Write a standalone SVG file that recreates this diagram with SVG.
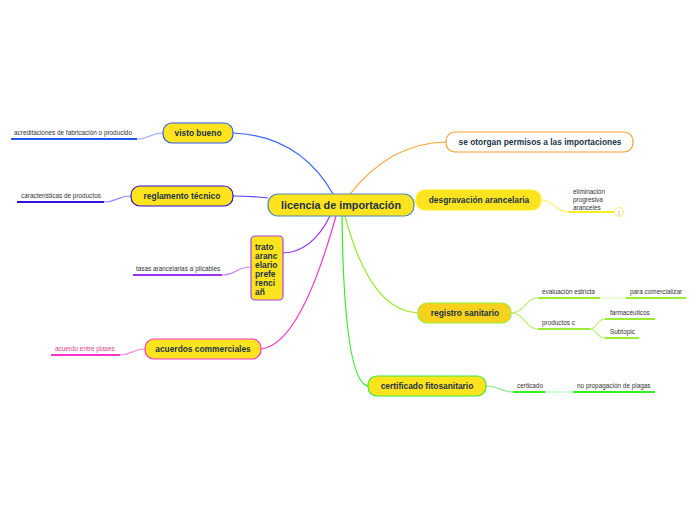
<svg xmlns="http://www.w3.org/2000/svg" width="696" height="520" viewBox="0 0 696 520">
<style>
.node{font-family:"Liberation Sans",Arial,sans-serif;font-weight:bold;font-size:8.4px;fill:#1b3447;text-anchor:middle}
.main{font-size:10.8px}
.sub{font-family:"Liberation Sans",Arial,sans-serif;font-size:6.4px;fill:#333}
.c{fill:none;stroke-width:1.2}
.u{fill:none;stroke-width:2}
</style>
<rect width="696" height="520" fill="#fff"/>
<g id="connectors">
<path class="c" stroke="#3366ff" d="M333,194 Q300,136 233,133"/>
<path class="c" stroke="#5a3cf0" d="M268,198 Q250,196 233,196"/>
<path class="c" stroke="#9933ff" d="M330,216 Q312,252 283,253"/>
<path class="c" stroke="#ff33cc" d="M336,216 Q300,345 261,349"/>
<path class="c" stroke="#ffa030" d="M350,194 Q390,143 446,142"/>
<path class="c" stroke="#ffee22" d="M414,203 L416,201"/>
<path class="c" stroke="#99ee22" d="M345,216 Q370,311 418,313"/>
<path class="c" stroke="#33ee22" d="M342,216 Q344,382 368,386"/>
<path class="c" stroke="#99aaff" d="M163,133 C150,133 150,139 137,139"/>
<path class="u" stroke="#2255ee" d="M11,139 H137"/>
<path class="c" stroke="#9988ff" d="M131,196 C117,196 117,202 104,202"/>
<path class="u" stroke="#3311dd" d="M17,202 H104"/>
<path class="c" stroke="#cc88ff" d="M251,267 C236,267 236,275 222,275"/>
<path class="u" stroke="#9933ee" d="M133,275 H222"/>
<path class="c" stroke="#ff88dd" d="M145,349 C132,349 132,355 120,355"/>
<path class="u" stroke="#ff33cc" d="M51,355 H120"/>
<path class="c" stroke="#ffee66" d="M541,200 C555,200 555,212 568,212"/>
<path class="u" stroke="#ffee22" d="M568,212 H614"/>
<circle cx="619" cy="212" r="4.5" fill="#fff" stroke="#ffee66" stroke-width="1"/>
<text x="619" y="214.5" font-family="Liberation Sans,Arial,sans-serif" font-size="5" fill="#aa9" text-anchor="middle">1</text>
<path class="c" stroke="#bbf070" d="M511,313 C525,313 525,298 538,298"/>
<path class="c" stroke="#bbf070" d="M511,313 C525,313 525,329 538,329"/>
<path class="u" stroke="#99ee33" d="M538,298 H600"/>
<path class="c" stroke="#ddf8bb" d="M600,298 H626"/>
<path class="u" stroke="#99ee33" d="M626,298 H686"/>
<path class="u" stroke="#99ee33" d="M538,329 H590"/>
<path class="c" stroke="#bbf070" d="M590,329 C597,329 597,319 605,319"/>
<path class="c" stroke="#bbf070" d="M590,329 C597,329 597,338 605,338"/>
<path class="u" stroke="#99ee33" d="M605,319 H655"/>
<path class="u" stroke="#99ee33" d="M605,338 H639"/>
<path class="c" stroke="#88ee88" d="M486,386 C500,386 500,392 513,392"/>
<path class="u" stroke="#33ee22" d="M513,392 H545"/>
<path class="c" stroke="#bbf7bb" d="M545,392 H573"/>
<path class="u" stroke="#33ee22" d="M573,392 H655"/>
</g>
<g id="central">
<rect x="268" y="194" width="146" height="22" rx="10" fill="#ffe31e" stroke="#4a8ab8" stroke-width="1.2"/>
<text class="node main" x="341" y="208.8">licencia de importación</text>
</g>
<g id="visto-bueno">
<rect x="163" y="123" width="70" height="20" rx="9" fill="#ffe31e" stroke="#2b5cff" stroke-width="1.2"/>
<text class="node" x="198" y="136">visto bueno</text>
</g>
<g id="reglamento">
<rect x="131" y="186" width="102" height="20" rx="9" fill="#ffe31e" stroke="#3311cc" stroke-width="1.2"/>
<text class="node" x="182" y="199">reglamento técnico</text>
</g>
<g id="trato">
<rect x="251" y="236" width="32" height="64" rx="4" fill="#ffe31e" stroke="#b040e0" stroke-width="1.2"/>
<text class="node" style="text-anchor:start">
<tspan x="255" y="250">trato</tspan><tspan x="255" y="259">aranc</tspan><tspan x="255" y="268">elario</tspan><tspan x="255" y="277">prefe</tspan><tspan x="255" y="286">renci</tspan><tspan x="255" y="295">añ</tspan>
</text>
</g>
<g id="acuerdos">
<rect x="145" y="339" width="116" height="20" rx="9" fill="#ffe31e" stroke="#ff33cc" stroke-width="1.2"/>
<text class="node" x="203" y="352">acuerdos commerciales</text>
</g>
<g id="permisos">
<rect x="446" y="132" width="187" height="20" rx="9" fill="#fff" stroke="#ffa030" stroke-width="1.2"/>
<text class="node" x="540" y="145">se otorgan permisos a las importaciones</text>
</g>
<g id="desgravacion">
<rect x="416" y="190" width="125" height="20" rx="9" fill="#ffe31e" stroke="#ffee22" stroke-width="1.2"/>
<text class="node" x="479" y="203">desgravación arancelaria</text>
</g>
<g id="registro">
<rect x="418" y="303" width="93" height="20" rx="9" fill="#f7d21c" stroke="#99ee33" stroke-width="1.2"/>
<text class="node" x="465" y="316">registro sanitario</text>
</g>
<g id="certificado">
<rect x="368" y="376" width="118" height="20" rx="9" fill="#ffe31e" stroke="#33ee33" stroke-width="1.2"/>
<text class="node" x="427" y="389">certificado fitosanitario</text>
</g>
<g id="subtopics">
<text class="sub" x="14" y="135">acreditaciones de fabricación o producido</text>
<text class="sub" x="21" y="198">características de productos</text>
<text class="sub" x="136" y="271">tasas arancelarias a´plicables</text>
<text class="sub" x="55" y="351" style="fill:#e0448c">acuerdo entre piases</text>
<text class="sub" x="573" y="194">eliminación</text>
<text class="sub" x="573" y="202">progresiva</text>
<text class="sub" x="573" y="210">aranceles</text>
<text class="sub" x="542" y="294">evaluación estricta</text>
<text class="sub" x="630" y="294">para comercializar</text>
<text class="sub" x="542" y="325">productos c</text>
<text class="sub" x="610" y="315">farmacéuticos</text>
<text class="sub" x="610" y="334">Subtopic</text>
<text class="sub" x="517" y="388">certicado</text>
<text class="sub" x="577" y="388">no propagación de plagas</text>
</g>
</svg>
